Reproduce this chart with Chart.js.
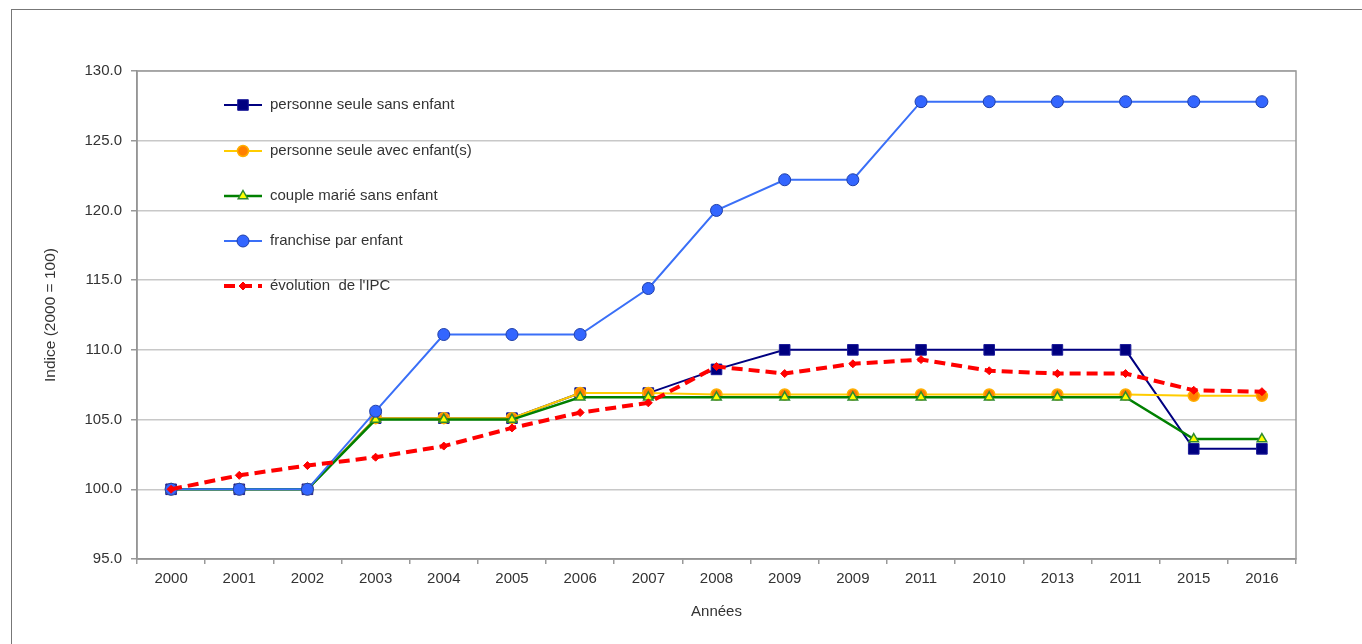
<!DOCTYPE html>
<html>
<head>
<meta charset="utf-8">
<script src="https://cdn.jsdelivr.net/npm/chart.js@4/dist/chart.umd.min.js"></script>
<style>
  html, body { margin: 0; padding: 0; background: #fff; overflow: hidden; }
  #frame { position: absolute; left: 11px; top: 9px; width: 1400px; height: 700px; border-left: 1.5px solid #777; border-top: 1.5px solid #777; }
  #wrap { position: absolute; left: 0; top: 0; width: 1362px; height: 644px; }
</style>
</head>
<body>
<div id="frame"></div>
<div id="wrap"><canvas id="lineChart"></canvas></div>
<script>
// categories as printed on the original (duplicates included)
const years = ['2000','2001','2002','2003','2004','2005','2006','2007','2008','2009','2009','2011','2010','2013','2011','2015','2016'];

const seuleSansEnfant = [100,100,100,105.1,105.1,105.1,106.9,106.9,108.6,110,110,110,110,110,110,102.9,102.9];
const seuleAvecEnfants = [100,100,100,105.1,105.1,105.1,106.9,106.9,106.8,106.8,106.8,106.8,106.8,106.8,106.8,106.7,106.7];
const coupleMarie = [100,100,100,105.0,105.0,105.0,106.6,106.6,106.6,106.6,106.6,106.6,106.6,106.6,106.6,103.6,103.6];
const franchiseEnfant = [100,100,100,105.6,111.1,111.1,111.1,114.4,120.0,122.2,122.2,127.8,127.8,127.8,127.8,127.8,127.8];
const evolutionIPC = [100,101.0,101.7,102.3,103.1,104.4,105.5,106.2,108.8,108.3,109.0,109.3,108.5,108.3,108.3,107.1,107.0];

const yTicks = [95,100,105,110,115,120,125,130];

const FONT = "'Liberation Sans', Arial, sans-serif";

document.addEventListener('DOMContentLoaded', () => {
    const canvas = document.getElementById('lineChart');

    /*** legend drawn inside the plot, like the original ***/
    const markerPath = (ctx, style, x, y, r) => {
        ctx.beginPath();
        if (style === 'rect') {
            const s = r * Math.SQRT1_2;
            ctx.rect(x - s, y - s, 2 * s, 2 * s);
        } else if (style === 'triangle') {
            ctx.moveTo(x, y - r);
            ctx.lineTo(x + r * 0.866, y + r * 0.5);
            ctx.lineTo(x - r * 0.866, y + r * 0.5);
            ctx.closePath();
        } else if (style === 'rectRot') {
            ctx.moveTo(x, y - r); ctx.lineTo(x + r, y); ctx.lineTo(x, y + r); ctx.lineTo(x - r, y);
            ctx.closePath();
        } else {
            ctx.arc(x, y, r, 0, Math.PI * 2);
        }
    };

    const insideLegend = {
        id: 'insideLegend',
        afterDraw(chart) {
            const ctx = chart.ctx;
            const rows = [105, 151, 196, 241, 286];
            ctx.save();
            chart.data.datasets.forEach((ds, i) => {
                const y = rows[i];
                ctx.strokeStyle = ds.borderColor;
                ctx.lineWidth = ds.borderWidth;
                ctx.setLineDash(ds.borderDash || []);
                ctx.beginPath();
                ctx.moveTo(224, y);
                ctx.lineTo(262, y);
                ctx.stroke();
                ctx.setLineDash([]);
                markerPath(ctx, ds.pointStyle, 243, y, ds.pointRadius);
                ctx.fillStyle = ds.pointBackgroundColor;
                ctx.fill();
                ctx.lineWidth = ds.pointBorderWidth;
                ctx.strokeStyle = ds.pointBorderColor;
                ctx.stroke();
                ctx.fillStyle = '#333';
                ctx.font = '15px ' + FONT;
                ctx.textBaseline = 'middle';
                ctx.textAlign = 'left';
                ctx.fillText(ds.label, 270, y);
            });
            ctx.restore();
        }
    };

    /*** top and right border of the plot area ***/
    const plotBorder = {
        id: 'plotBorder',
        beforeDatasetsDraw(chart) {
            const { ctx, chartArea: a } = chart;
            ctx.save();
            ctx.strokeStyle = '#999';
            ctx.lineWidth = 1.5;
            ctx.strokeRect(a.left, a.top, a.right - a.left, a.bottom - a.top);
            ctx.restore();
        }
    };

    new Chart(canvas.getContext('2d'), {
        type: 'line',
        data: {
            labels: years,
            datasets: [
                {
                    label: 'personne seule sans enfant', data: seuleSansEnfant, order: 5,
                    borderColor: '#000080', borderWidth: 2,
                    pointStyle: 'rect', pointRadius: 7.5, pointBackgroundColor: '#000080',
                    pointBorderColor: '#1a1a99', pointBorderWidth: 1
                },
                {
                    label: 'personne seule avec enfant(s)', data: seuleAvecEnfants, order: 4,
                    borderColor: '#ffcc00', borderWidth: 2,
                    pointStyle: 'circle', pointRadius: 5.5, pointBackgroundColor: '#ff7f00',
                    pointBorderColor: '#ffb000', pointBorderWidth: 1.5
                },
                {
                    label: 'couple marié sans enfant', data: coupleMarie, order: 3,
                    borderColor: '#008000', borderWidth: 2.5,
                    pointStyle: 'triangle', pointRadius: 5.5, pointBackgroundColor: '#ffff00',
                    pointBorderColor: '#2e8b2e', pointBorderWidth: 1.5
                },
                {
                    label: 'franchise par enfant', data: franchiseEnfant, order: 2,
                    borderColor: '#3a6ff7', borderWidth: 2,
                    pointStyle: 'circle', pointRadius: 6, pointBackgroundColor: '#3366ff',
                    pointBorderColor: '#1f3fa8', pointBorderWidth: 1
                },
                {
                    label: "évolution  de l'IPC", data: evolutionIPC, order: 1,
                    borderColor: '#ff0000', borderWidth: 4, borderDash: [11, 6],
                    pointStyle: 'rectRot', pointRadius: 4, pointBackgroundColor: '#ff0000',
                    pointBorderColor: '#ff0000', pointBorderWidth: 1
                }
            ]
        },
        options: {
            responsive: true,
            maintainAspectRatio: false,
            animation: false,
            layout: { padding: { left: 0, right: 66, top: 71, bottom: 0 } },
            plugins: {
                legend: { display: false },
                tooltip: { enabled: false }
            },
            elements: { line: { tension: 0, fill: false } },
            scales: {
                x: {
                    offset: true,
                    grid: { display: true, drawOnChartArea: false, offset: true, tickLength: 5, color: '#999', lineWidth: 1.5 },
                    border: { color: '#888', width: 1.5 },
                    ticks: { color: '#333', font: { family: FONT, size: 15 }, padding: 6, maxRotation: 0, autoSkip: false },
                    title: { display: true, text: 'Années', color: '#333', font: { family: FONT, size: 15 }, padding: { top: 0, bottom: 23 } },
                    afterFit: (scale) => { scale.height = 85; }
                },
                y: {
                    min: 95, max: 130,
                    afterBuildTicks: (scale) => { scale.ticks = yTicks.map(v => ({ value: v })); },
                    grid: { color: '#c8c8c8', lineWidth: 1.5, tickLength: 6, tickColor: '#999' },
                    border: { color: '#888', width: 1.5 },
                    ticks: { color: '#333', font: { family: FONT, size: 15 }, padding: 9, callback: v => Number(v).toFixed(1) },
                    title: { display: true, text: 'Indice (2000 = 100)', color: '#333', font: { family: FONT, size: 15.5 }, padding: { top: 41, bottom: 0 } },
                    afterFit: (scale) => { scale.width = 137; }
                }
            }
        },
        plugins: [plotBorder, insideLegend]
    });
});
</script>
</body>
</html>
